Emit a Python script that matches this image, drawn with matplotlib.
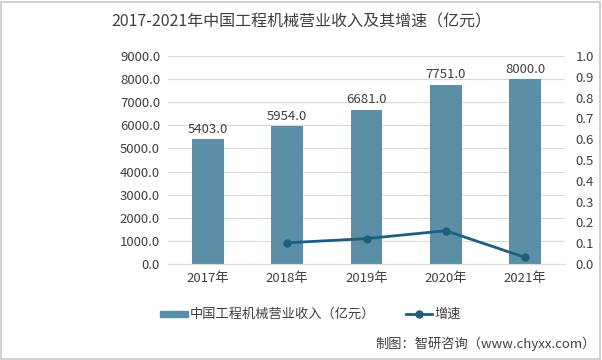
import matplotlib
matplotlib.use("Agg")
import matplotlib.pyplot as plt
from matplotlib.patches import Rectangle

plt.rcParams['font.family'] = ['Noto Sans CJK SC', 'DejaVu Sans']

years = ["2017年", "2018年", "2019年", "2020年", "2021年"]
revenue = [5403.0, 5954.0, 6681.0, 7751.0, 8000.0]
growth_years_idx = [1, 2, 3, 4]
growth = [0.102, 0.122, 0.160, 0.032]

W, H = 602, 360
fig = plt.figure(figsize=(W/100, H/100), dpi=100)
fig.patch.set_facecolor('white')
fig.add_artist(Rectangle((1/W, 1/H), 1-3/W, 1-3/H, transform=fig.transFigure,
                         fill=False, edgecolor='#c8c8c8', lw=1.2))

left, right, bottom, top = 168.4, 564.6, 264, 56
ax = fig.add_axes([left/W, 1-bottom/H, (right-left)/W, (bottom-top)/H])
x = list(range(len(years)))
bar_color = '#5b8fa8'
line_color = '#1d5f7c'
ax.bar(x, revenue, width=0.4, color=bar_color, zorder=2)
ax.set_ylim(0, 9000)
ax.set_xlim(-0.5, 4.5)
ax.set_yticks([i*1000 for i in range(10)])
ax.set_yticklabels([f"{i*1000:.1f}" for i in range(10)])
ax.yaxis.grid(True, color='#d9d9d9', lw=0.8, zorder=0)
ax.set_axisbelow(True)
for s in ['top', 'right', 'left']:
    ax.spines[s].set_visible(False)
ax.spines['bottom'].set_color('#d9d9d9')
ax.tick_params(axis='both', length=0, labelsize=9.5, colors='#404040', pad=6)
ax.set_xticks(x)
ax.set_xticklabels(years)
for xi, v in zip(x, revenue):
    ax.text(xi, v + 150, f"{v:.1f}", ha='center', va='bottom', fontsize=9.5, color='#404040')

ax2 = ax.twinx()
ax2.set_ylim(0, 1.0)
ax2.set_yticks([i/10 for i in range(11)])
ax2.set_yticklabels([f"{i/10:.1f}" for i in range(11)])
for s in ['top', 'right', 'left', 'bottom']:
    ax2.spines[s].set_visible(False)
ax2.tick_params(axis='y', length=0, labelsize=9.5, colors='#404040', pad=8)
ax2.plot(growth_years_idx, growth, color=line_color, lw=2, marker='o', ms=5, zorder=3)

fig.text(0.5, 1-22/H, "2017-2021年中国工程机械营业收入及其增速（亿元）", ha='center', va='center',
         fontsize=11.5, color='#404040')

# legend
ly = 1 - 314/H
fig.add_artist(Rectangle((160/W, ly - 3/H), 28/W, 6/H, transform=fig.transFigure,
                         color=bar_color))
fig.text(190/W, ly, "中国工程机械营业收入（亿元）", ha='left', va='center', fontsize=9.5, color='#404040')
from matplotlib.lines import Line2D
fig.add_artist(Line2D([406/W, 432/W], [ly, ly], transform=fig.transFigure, color=line_color, lw=2))
fig.add_artist(Line2D([419/W], [ly], transform=fig.transFigure, color=line_color, marker='o', ms=5))
fig.text(434/W, ly, "增速", ha='left', va='center', fontsize=9.5, color='#404040')

fig.text(596/W, 1-344/H, "制图：智研咨询（www.chyxx.com）", ha='right', va='center', fontsize=9.5, color='#404040')

fig.savefig("out.png", dpi=100)
